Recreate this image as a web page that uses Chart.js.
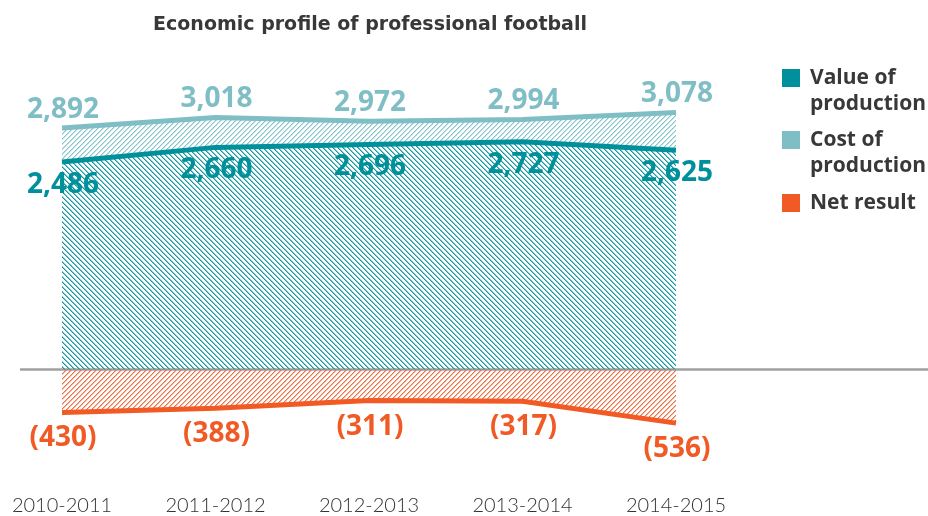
<!DOCTYPE html>
<html>
<head>
<meta charset="utf-8">
<title>Economic profile of professional football</title>
<script src="https://cdn.jsdelivr.net/npm/chart.js@4.4.0/dist/chart.umd.min.js"></script>
<style>
    html, body { margin: 0; padding: 0; background: #ffffff; }
    #wrap { width: 928px; height: 516px; }
</style>
</head>
<body>
<div id="wrap"><canvas id="profileChart" width="928" height="516"></canvas></div>
<script>
const seasons = ["2010-2011", "2011-2012", "2012-2013", "2013-2014", "2014-2015"];
const valueOfProduction = [2486, 2660, 2696, 2727, 2625];
const costOfProduction = [2892, 3018, 2972, 2994, 3078];
const netResult = [-430, -388, -311, -317, -536];
const seriesNames = [["Value of", "production"], ["Cost of", "production"], ["Net result"]];
const chartTitle = "Economic profile of professional football";

const DARK_TEAL = "#00909b";
const LIGHT_TEAL = "#80bec6";
const ORANGE = "#f15a24";
const TEXT = "#383838";

// diagonal hatch tile, profile = alpha per pixel across one stripe period
function makeHatch(ctx, color, direction, profile) {
    const size = profile.length;
    const tile = document.createElement("canvas");
    tile.width = size;
    tile.height = size;
    const c = tile.getContext("2d");
    c.fillStyle = color;
    for (let x = 0; x < size; x++) {
        for (let y = 0; y < size; y++) {
            const d = direction === "/" ? (x + y) % size : (((x - y) % size) + size) % size;
            if (profile[d] > 0) {
                c.globalAlpha = profile[d];
                c.fillRect(x, y, 1, 1);
            }
        }
    }
    return ctx.createPattern(tile, "repeat");
}

function formatValue(v) {
    const s = Math.abs(v).toLocaleString("en-US");
    return v < 0 ? "(" + s + ")" : s;
}

const decorations = {
    id: "decorations",
    beforeDatasetsDraw(chart) {
        const ctx = chart.ctx;
        const y0 = chart.scales.y.getPixelForValue(0);
        ctx.save();
        ctx.strokeStyle = "#a0a0a0";
        ctx.lineWidth = 2.5;
        ctx.beginPath();
        ctx.moveTo(20, y0);
        ctx.lineTo(928, y0);
        ctx.stroke();
        ctx.restore();
    },
    afterDatasetsDraw(chart) {
        const ctx = chart.ctx;
        const offsets = [23, -18, 26]; // value below, cost above, net below
        ctx.save();
        ctx.font = 'bold 28px "Open Sans"';
        ctx.textAlign = "center";
        ctx.textBaseline = "middle";
        chart.data.datasets.forEach((ds, i) => {
            const meta = chart.getDatasetMeta(i);
            ctx.fillStyle = ds.borderColor;
            meta.data.forEach((pt, j) => {
                ctx.fillText(formatValue(ds.data[j]), pt.x + 1, pt.y + offsets[i]);
            });
        });
        ctx.restore();
    },
    afterDraw(chart) {
        const ctx = chart.ctx;
        ctx.save();
        // title
        ctx.fillStyle = TEXT;
        ctx.font = 'bold 19px "DejaVu Sans"';
        ctx.textAlign = "center";
        ctx.textBaseline = "alphabetic";
        ctx.fillText(chartTitle, 370, 30);
        // legend
        const rowTops = [69, 131, 194];
        ctx.textAlign = "left";
        ctx.textBaseline = "middle";
        ctx.font = 'bold 21px "Open Sans"';
        chart.data.datasets.forEach((ds, i) => {
            ctx.fillStyle = ds.borderColor;
            ctx.fillRect(782, rowTops[i], 18, 18);
            ctx.fillStyle = TEXT;
            seriesNames[i].forEach((line, k) => {
                ctx.fillText(line, 810, rowTops[i] + 9 + k * 26);
            });
        });
        ctx.restore();
    },
};

function showProfileChart() {
    const canvas = document.getElementById("profileChart");
    const ctx = canvas.getContext("2d");
    new Chart(ctx, {
        type: "line",
        data: {
            labels: seasons,
            datasets: [
                {
                    label: seriesNames[0].join(" "),
                    data: valueOfProduction,
                    yAxisID: "y",
                    borderColor: DARK_TEAL,
                    borderWidth: 5,
                    backgroundColor: makeHatch(ctx, "#139aa5", "\\", [1, 0.55, 0, 0, 0]),
                    fill: "origin",
                    pointRadius: 0,
                    tension: 0,
                },
                {
                    label: seriesNames[1].join(" "),
                    data: costOfProduction,
                    yAxisID: "y",
                    borderColor: LIGHT_TEAL,
                    borderWidth: 5,
                    backgroundColor: makeHatch(ctx, "#86c6ce", "/", [1, 0.5, 0, 0, 0]),
                    fill: 0,
                    pointRadius: 0,
                    tension: 0,
                },
                {
                    label: seriesNames[2].join(" "),
                    data: netResult,
                    yAxisID: "yNet",
                    borderColor: ORANGE,
                    borderWidth: 5,
                    backgroundColor: makeHatch(ctx, "#f26a3a", "/", [0.95, 0.5, 0, 0, 0]),
                    fill: "origin",
                    pointRadius: 0,
                    tension: 0,
                },
            ],
        },
        options: {
            responsive: false,
            animation: false,
            devicePixelRatio: 1,
            layout: {
                padding: { left: 62, right: 252, top: 80, bottom: 0 },
            },
            plugins: {
                legend: { display: false },
                title: { display: false },
                tooltip: { enabled: false },
            },
            scales: {
                x: {
                    offset: false,
                    grid: { display: false, drawTicks: false },
                    border: { display: false },
                    ticks: {
                        color: "#333333",
                        font: { family: "Lato", size: 20, weight: "300" },
                        padding: -2,
                        maxRotation: 0,
                        autoSkip: false,
                    },
                },
                y: { display: false, min: -1515, max: 3467 },
                yNet: { display: false, min: -1265, max: 2895 },
            },
        },
        plugins: [decorations],
    });
}

document.addEventListener("DOMContentLoaded", () => {
    showProfileChart();
});
</script>
</body>
</html>
